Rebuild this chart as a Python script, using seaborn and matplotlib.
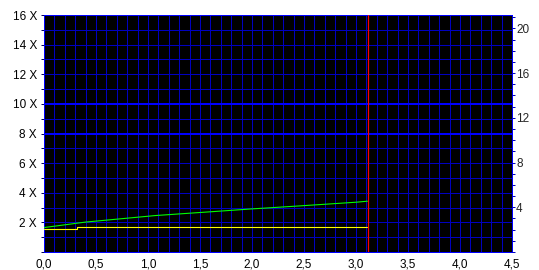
import matplotlib
matplotlib.use("Agg")
import matplotlib.pyplot as plt
from matplotlib.ticker import MultipleLocator
import seaborn as sns
import pandas as pd

# ---- data ----
green_x = [0.0, 0.40, 1.07, 1.59, 2.00, 2.41, 3.00, 3.11]
green_y = [1.65, 2.02, 2.46, 2.71, 2.91, 3.09, 3.36, 3.43]
yellow_x = [0.0, 0.32, 0.32, 3.11]
yellow_y = [1.55, 1.55, 1.68, 1.68]
marker_x = 3.12

left_ticks = [2, 4, 6, 8, 10, 12, 14, 16]
left_labels = ["2 X", "4 X", "6 X", "8 X", "10 X", "12 X", "14 X", "16 X"]
bottom_ticks = [0.0, 0.5, 1.0, 1.5, 2.0, 2.5, 3.0, 3.5, 4.0, 4.5]
bottom_labels = ["0,0", "0,5", "1,0", "1,5", "2,0", "2,5", "3,0", "3,5", "4,0", "4,5"]
right_ticks = [4, 8, 12, 16, 20]
right_labels = ["4", "8", "12", "16", "20"]
bright_rows = [8, 10]

sns.set_style("white")
plt.rcParams["font.family"] = ["Liberation Sans", "DejaVu Sans"]

PX = 0.72  # one pixel at 100 dpi, in points

fig = plt.figure(figsize=(5.39, 2.70), dpi=100)
ax = fig.add_axes([44 / 539, 18 / 270, 468 / 539, 237 / 270])
ax.set_facecolor("black")

ax.set_xlim(0, 4.5)
ax.set_ylim(0, 16)

ax.set_xticks(bottom_ticks)
ax.set_xticklabels(bottom_labels)
ax.xaxis.set_minor_locator(MultipleLocator(0.1))
ax.set_yticks(left_ticks)
ax.set_yticklabels(left_labels)
ax.yaxis.set_minor_locator(MultipleLocator(1))
ax.grid(True, which="both", color="#0000c0", linewidth=PX, antialiased=False)
ax.set_axisbelow(True)
for r in bright_rows:
    ax.axhline(r, color="#0000ff", linewidth=2 * PX, antialiased=False, zorder=1)

df_g = pd.DataFrame({"x": green_x, "y": green_y})
df_y = pd.DataFrame({"x": yellow_x, "y": yellow_y})
sns.lineplot(data=df_g, x="x", y="y", color="#00ff00", linewidth=1.1 * PX,
             estimator=None, sort=False, ax=ax, zorder=3)
sns.lineplot(data=df_y, x="x", y="y", color="#ffff00", linewidth=1.1 * PX,
             estimator=None, sort=False, ax=ax, zorder=3)
ax.axvline(marker_x, color="#ff0000", linewidth=1.2 * PX, zorder=4)

ax.set_xlabel("")
ax.set_ylabel("")

for s in ax.spines.values():
    s.set_color("#0000ff")
    s.set_linewidth(PX)

ax.tick_params(axis="both", which="both", direction="out", length=2.5,
               width=PX, color="#0000c0", labelsize=8.5, labelcolor="black", pad=2)
ax.tick_params(axis="y", which="both", color="#000060", pad=2.5)

# right axis
ax2 = ax.twinx()
ax2.set_ylim(0, 21.2)
ax2.set_yticks(right_ticks)
ax2.set_yticklabels(right_labels)
ax2.yaxis.set_minor_locator(MultipleLocator(1))
ax2.tick_params(axis="y", which="both", direction="out", length=2, width=PX,
                color="#0000c0", labelsize=8.5, pad=1)
ax2.grid(False)
for s in ax2.spines.values():
    s.set_visible(False)

fig.savefig("out.png", dpi=100, facecolor="white")
